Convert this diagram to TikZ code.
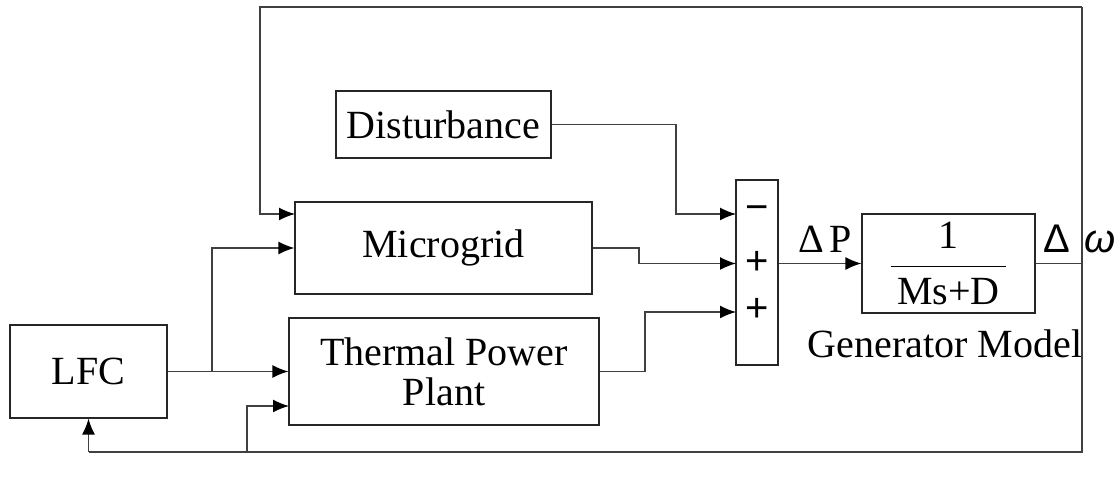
\documentclass[tikz,border=0pt]{standalone}
\usepackage{fontspec}
\setmainfont{Liberation Serif}
\newfontfamily\signfont{Liberation Sans}
\usetikzlibrary{positioning,arrows.meta}

\tikzset{
  block/.style={draw=black!85, line width=0.6pt, inner sep=0pt, align=center,
    font=\fontsize{20}{20}\selectfont},
  sign/.style={font=\signfont\fontsize{20}{20}\selectfont, inner sep=0pt},
  lbl/.style={font=\fontsize{20}{20}\selectfont, inner sep=0pt, anchor=base},
  sig/.style={draw=black!75, line width=0.7pt},
  arr/.style={sig, -{Latex[length=8pt,width=6.5pt,color=black]}},
}

\begin{document}
\begin{tikzpicture}[x=0.5pt, y=-0.5pt]
	\useasboundingbox (0,0) rectangle (1120,480);

	% blocks
	\node[block, minimum width=78.5pt, minimum height=46.5pt] (lfc) at (88.5,371.5) {LFC};
	\node[block, minimum width=107.5pt, minimum height=33.5pt] (dist) at (443.5,124.5) {Disturbance};
	\node[block, minimum width=148.5pt, minimum height=46pt] (mgrid) at (443.5,248) {Microgrid};
	\node[block, minimum width=155pt, minimum height=53.5pt] (thermal) at (444,371.5) {Thermal Power\\[0pt]Plant};
	\node[block, minimum width=21pt, minimum height=92.5pt] (sum) at (757,272.5) {};
	\node[block, minimum width=86.5pt, minimum height=49.5pt] (gen) at (948.5,263.5)
		{$\displaystyle\frac{\mbox{1}}{\mbox{\,Ms+D\,}}$};

	% signs of the summing bar
	\node[sign] (m1) at (757,213) {−};
	\node[sign] (p1) at (757,263) {+};
	\node[sign] (p2) at (757,310) {+};

	% labels
	\node[lbl] (dp) at (825,253) {Δ\kern2.5pt P};
	\node[lbl, font=\signfont\fontsize{20}{20}\selectfont] (dd) at (1057,253) {Δ};
	\node[lbl, font=\signfont\itshape\fontsize{20}{20}\selectfont] (ww) at (1100,253) {ω};
	\node[lbl] (gm) at (945,358) {Generator Model};

	% corner points of the feedback path
	\coordinate (tl) at (260,7);
	\coordinate (tr) at (1082,7);
	\coordinate (br) at (1082,452);
	\coordinate (bl) at (88.5,452);
	\coordinate (tap) at (247,452);
	\coordinate (split) at (212,371.5);

	% input ports
	\coordinate (mgin) at (295,214);
	\coordinate (thin) at (289,406);
	\coordinate (s1) at (736,214);
	\coordinate (s2) at (736,263.5);
	\coordinate (s3) at (736,312);

	% connectors
	\draw[arr] (lfc.east) -- (thermal.west);
	\draw[arr] (split) |- (mgrid.west);
	\draw[sig] (tr) -- (br) -- (bl);
	\draw[arr] (bl) -- (lfc.south);
	\draw[arr] (tr) -- (tl) |- (mgin);
	\draw[arr] (tap) |- (thin);
	\draw[arr] (dist.east) -| ([xshift=-30pt]s1) -- (s1);
	\draw[arr] (mgrid.east) -| ([xshift=-48.5pt]s2) -- (s2);
	\draw[arr] (thermal.east) -| ([xshift=-45.5pt]s3) -- (s3);
	\draw[arr] (sum.east |- gen.west) -- (gen.west);
	\draw[sig] (gen.east) -- (gen.east -| br);
\end{tikzpicture}
\end{document}
